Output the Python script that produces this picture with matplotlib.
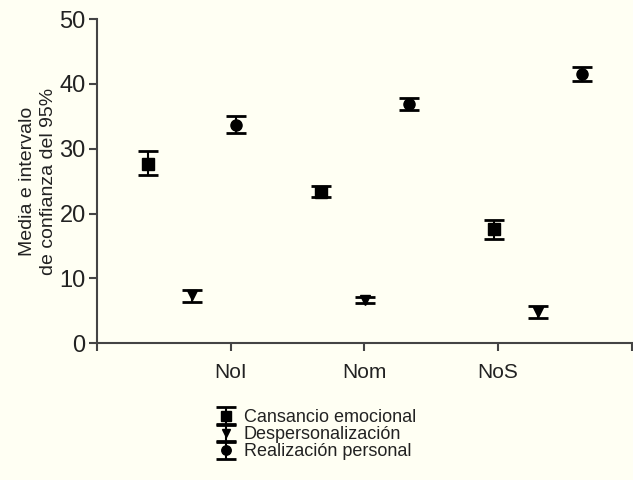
import matplotlib
matplotlib.use('Agg')
import matplotlib.pyplot as plt

plt.rcParams['font.family'] = ['Liberation Sans', 'DejaVu Sans']

groups = ["NoI", "Nom", "NoS"]
series = ["Cansancio emocional", "Despersonalización", "Realización personal"]
markers = ["s", "v", "o"]

# mean, lower CI, upper CI per series, per group
means = [
    [27.7, 23.4, 17.6],
    [7.5, 6.7, 4.8],
    [33.7, 36.9, 41.6],
]
lower = [
    [25.9, 22.5, 16.1],
    [6.4, 6.2, 3.9],
    [32.4, 36.0, 40.5],
]
upper = [
    [29.7, 24.3, 19.0],
    [8.2, 7.2, 5.7],
    [35.0, 37.9, 42.6],
]

BG = "#fffff3"
INK = "#222222"
SPINE = "#444444"

fig = plt.figure(figsize=(6.33, 4.80), dpi=100, facecolor=BG)
ax = fig.add_axes([0.153, 0.285, 0.845, 0.675], facecolor=BG)

offsets = [-0.33, 0.0, 0.33]
sizes = [8, 7, 8]
handles = []
for i, name in enumerate(series):
    xs = [0.71 + g * 1.295 + offsets[i] for g in range(len(groups))]
    m = means[i]
    err = [[m[g] - lower[i][g] for g in range(3)],
           [upper[i][g] - m[g] for g in range(3)]]
    h = ax.errorbar(xs, m, yerr=err, fmt=markers[i], color="black",
                    markersize=sizes[i], capsize=7, capthick=2,
                    elinewidth=1.5, label=name)
    handles.append(h)

ax.set_xlim(0, 4)
ax.set_ylim(0, 50)
ax.set_yticks([0, 10, 20, 30, 40, 50])
ax.set_xticks([0, 1, 2, 3, 4])
ax.set_xticklabels(["", groups[0], groups[1], groups[2], ""], fontsize=15, color=INK)
ax.tick_params(axis='y', labelsize=17, colors=SPINE, labelcolor=INK, length=6,
               width=1.5, pad=2)
ax.tick_params(axis='x', colors=SPINE, labelcolor=INK, length=6, width=1.5, pad=8)

for s in ["top", "right"]:
    ax.spines[s].set_visible(False)
for s in ["left", "bottom"]:
    ax.spines[s].set_color(SPINE)
    ax.spines[s].set_linewidth(1.5)

ax.set_ylabel("Media e intervalo\nde confianza del 95%", fontsize=14, color=INK,
              linespacing=1.3, labelpad=2)

fig.legend(handles=handles, labels=series, loc="upper left",
           bbox_to_anchor=(0.325, 0.166), frameon=False, fontsize=13,
           labelspacing=0.0, handlelength=1.2, handletextpad=0.4,
           borderpad=0, labelcolor=INK, markerscale=0.85)

fig.savefig("out.png", dpi=100, facecolor=BG)
